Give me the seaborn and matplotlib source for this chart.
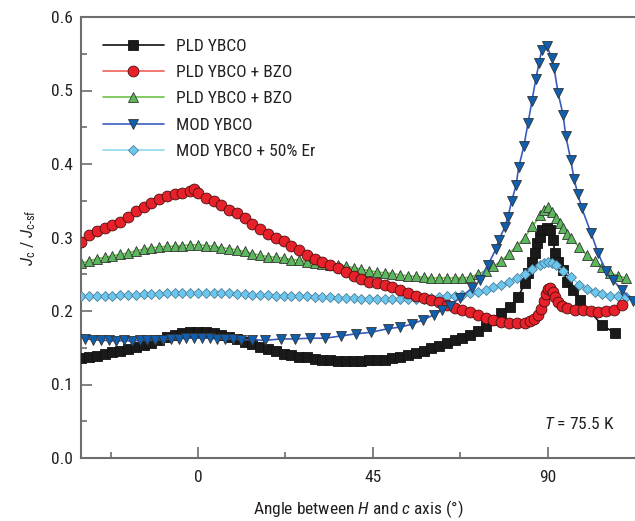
import matplotlib
matplotlib.use("Agg")
import matplotlib.pyplot as plt
from matplotlib import font_manager
import seaborn as sns

# ---------------- data ----------------
pld_x = [-30, -28, -26, -24, -22, -20, -18, -16, -14, -12, -10, -8, -6, -4, -2, 0, 2, 4, 6, 8,
         10, 12, 14, 16, 18, 20, 22, 24, 26, 28, 30, 32, 34, 36, 38, 40, 42, 44, 46, 48,
         50, 52, 54, 56, 58, 60, 62, 64, 66, 68, 70, 72, 74, 76, 78, 80.2, 82.3, 84.1, 84.9, 85.9,
         86.7, 87.2, 88.0, 88.5, 89.7, 90.5, 91.3, 91.8, 92.6, 93.9, 94.9, 96.4, 98.2, 103.9, 107.2]
pld_y = [0.136, 0.137, 0.139, 0.141, 0.144, 0.146, 0.148, 0.151, 0.154, 0.157, 0.161, 0.165, 0.168, 0.170, 0.171, 0.171, 0.171, 0.170, 0.168, 0.165,
         0.162, 0.158, 0.155, 0.151, 0.148, 0.145, 0.142, 0.140, 0.138, 0.137, 0.135, 0.134, 0.133, 0.132, 0.132, 0.132, 0.132, 0.133, 0.133, 0.134,
         0.136, 0.138, 0.140, 0.143, 0.146, 0.149, 0.152, 0.156, 0.160, 0.163, 0.168, 0.173, 0.180, 0.188, 0.197, 0.205, 0.219, 0.238, 0.252, 0.267,
         0.279, 0.293, 0.301, 0.310, 0.313, 0.310, 0.297, 0.279, 0.267, 0.256, 0.239, 0.229, 0.215, 0.181, 0.170]

bzo_x = [-30, -28, -26, -24, -22, -20, -18, -16, -14, -12, -10, -8, -6, -4, -2, -1, 0, 2, 4, 6,
         8, 10, 12, 14, 16, 18, 20, 22, 24, 26, 28, 30, 32, 34, 36, 38, 40, 42, 44, 46,
         48, 50, 52, 54, 56, 58, 60, 62, 64, 66, 68, 70, 72, 74, 76, 78, 80, 82, 84, 85.5,
         86.5, 87.5, 88.3, 88.9, 89.4, 90.0, 90.6, 91.2, 91.8, 92.5, 93.5, 95, 97, 99, 101, 103, 105, 107, 109]
bzo_y = [0.294, 0.303, 0.309, 0.313, 0.317, 0.321, 0.328, 0.336, 0.342, 0.347, 0.352, 0.356, 0.359, 0.361, 0.363, 0.366, 0.360, 0.354, 0.349, 0.344,
         0.338, 0.333, 0.327, 0.319, 0.311, 0.305, 0.300, 0.295, 0.289, 0.283, 0.276, 0.271, 0.266, 0.262, 0.258, 0.253, 0.248, 0.244, 0.240, 0.238,
         0.235, 0.232, 0.229, 0.225, 0.221, 0.218, 0.215, 0.212, 0.208, 0.204, 0.202, 0.199, 0.194, 0.191, 0.188, 0.185, 0.184, 0.183, 0.184, 0.186,
         0.189, 0.194, 0.203, 0.214, 0.223, 0.230, 0.231, 0.226, 0.219, 0.212, 0.207, 0.204, 0.202, 0.201, 0.200, 0.199, 0.200, 0.202, 0.208]

bzo2_x = [-30, -28, -26, -24, -22, -20, -18, -16, -14, -12, -10, -8, -6, -4, -2, 0, 2, 4, 6, 8,
          10, 12, 14, 16, 18, 20, 22, 24, 26, 28, 30, 32, 34, 36, 38, 40, 42, 44, 46, 48,
          50, 52, 54, 56, 58, 60, 62, 64, 66, 68, 70, 72, 74, 76, 78, 80, 82, 84, 86, 88,
          89, 90, 91, 92, 93, 94, 95, 96, 98, 100, 102, 104, 106, 108, 110]
bzo2_y = [0.265, 0.268, 0.271, 0.273, 0.275, 0.277, 0.279, 0.282, 0.284, 0.286, 0.287, 0.288, 0.288, 0.289, 0.290, 0.290, 0.289, 0.288, 0.286, 0.285,
          0.283, 0.281, 0.278, 0.276, 0.274, 0.273, 0.272, 0.270, 0.269, 0.267, 0.265, 0.264, 0.263, 0.262, 0.261, 0.259, 0.257, 0.255, 0.253, 0.252,
          0.251, 0.249, 0.248, 0.247, 0.246, 0.245, 0.245, 0.245, 0.245, 0.245, 0.246, 0.250, 0.255, 0.261, 0.268, 0.278, 0.288, 0.300, 0.315, 0.330,
          0.338, 0.342, 0.335, 0.327, 0.320, 0.313, 0.305, 0.299, 0.287, 0.276, 0.268, 0.260, 0.252, 0.248, 0.245]

mod_x = [-29, -27, -25, -23, -21, -19, -17, -15, -13, -11, -9, -7, -5, -3, -1, 1, 3, 5, 7, 9,
         11, 14, 17.2, 21.3, 24.9, 28.8, 32.7, 36.8, 40.6, 44.5, 48.9, 51.9, 55.0, 57.9, 60.7, 62.7, 64.8, 67.4, 70.5, 72.5,
         74.6, 76.6, 77.4, 78.9, 79.7, 80.7, 81.8, 82.5, 83.8, 84.9, 85.9, 86.9, 87.7, 88.4, 89.7, 91.0, 91.6, 92.6, 93.9, 94.6,
         95.9, 96.7, 97.7, 98.7, 101.1, 102.9, 104.9, 106.7, 109.0, 111.8]
mod_y = [0.162, 0.161, 0.160, 0.160, 0.159, 0.160, 0.159, 0.160, 0.160, 0.161, 0.161, 0.162, 0.162, 0.163, 0.163, 0.163, 0.163, 0.162, 0.162, 0.162,
         0.161, 0.161, 0.160, 0.162, 0.162, 0.163, 0.163, 0.166, 0.169, 0.171, 0.176, 0.178, 0.182, 0.188, 0.195, 0.201, 0.207, 0.218, 0.231, 0.242,
         0.263, 0.284, 0.297, 0.314, 0.328, 0.350, 0.371, 0.396, 0.424, 0.456, 0.486, 0.516, 0.537, 0.555, 0.561, 0.544, 0.530, 0.497, 0.467, 0.438,
         0.405, 0.380, 0.359, 0.340, 0.306, 0.279, 0.254, 0.242, 0.229, 0.213]

er_x = [-30, -28, -26, -24, -22, -20, -18, -16, -14, -12, -10, -8, -6, -4, -2, 0, 2, 4, 6, 8,
        10, 12, 14, 16, 18, 20, 22, 24, 26, 28, 30, 32, 34, 36, 38, 40, 42, 44, 46, 48,
        50, 52, 54, 56, 58, 60, 62, 64, 66, 68, 70, 72, 74, 76, 78, 80, 82, 84, 86, 88,
        89, 90, 91, 92, 94, 96, 98, 100, 102, 104, 106, 108, 110]
er_y = [0.220, 0.220, 0.221, 0.221, 0.221, 0.222, 0.222, 0.222, 0.223, 0.223, 0.223, 0.224, 0.224, 0.224, 0.225, 0.225, 0.224, 0.225, 0.224, 0.224,
        0.223, 0.223, 0.222, 0.222, 0.222, 0.221, 0.221, 0.220, 0.220, 0.220, 0.219, 0.219, 0.219, 0.218, 0.218, 0.218, 0.217, 0.217, 0.217, 0.216,
        0.216, 0.216, 0.216, 0.217, 0.217, 0.218, 0.219, 0.220, 0.221, 0.222, 0.224, 0.226, 0.229, 0.232, 0.236, 0.240, 0.245, 0.251, 0.257, 0.262,
        0.265, 0.266, 0.265, 0.262, 0.255, 0.246, 0.236, 0.230, 0.226, 0.223, 0.221, 0.220, 0.219]

labels = ["PLD YBCO", "PLD YBCO + BZO", "PLD YBCO + BZO", "MOD YBCO", "MOD YBCO + 50% Er"]
x_ticks = [0, 45, 90]
y_ticks = [0.0, 0.1, 0.2, 0.3, 0.4, 0.5, 0.6]

# ---------------- fonts ----------------
sns.set_style("ticks")
entries = font_manager.fontManager.ttflist
names = {f.name for f in entries}
preferred = ["Liberation Sans Narrow", "Arial Narrow", "Roboto Condensed", "Noto Sans Condensed",
             "Open Sans Condensed", "Fira Sans Condensed", "IBM Plex Sans Condensed", "DejaVu Sans Condensed"]
bad = ("Light", "Thin", "Black", "Bold", "Medium", "Semi", "Extra", "Mono")
fam = next((p for p in preferred if p in names), None)
if fam is None:
    cand = sorted(n for n in names if ("Narrow" in n or "Condensed" in n)
                  and "Sans" in n and not any(b in n for b in bad))
    fam = cand[0] if cand else None
if fam is None:
    fam, FS = "Liberation Sans", 11.5
else:
    FS = 12.5
has_italic = any(f.name == fam and f.style in ("italic", "oblique") for f in entries)
it_fam = fam if has_italic else "Liberation Sans"

plt.rcParams["font.family"] = [fam, "DejaVu Sans"]
plt.rcParams["mathtext.fontset"] = "custom"
plt.rcParams["mathtext.rm"] = fam
plt.rcParams["mathtext.it"] = it_fam + ":italic"
plt.rcParams["mathtext.bf"] = fam + ":bold"

TXT = "#231f20"

fig = plt.figure(figsize=(6.35, 5.21), dpi=100)
ax = fig.add_axes([81 / 635, 63 / 521, 554 / 635, 441 / 521])

common = dict(ax=ax, sort=False, estimator=None, linewidth=1.2, legend=False)
lines = {}
sns.lineplot(x=bzo2_x, y=bzo2_y, color="#6cc24a", marker="^", markersize=7.5,
             markerfacecolor="#5cb85c", markeredgecolor="#333333", markeredgewidth=0.6,
             zorder=2, **common)
lines[2] = ax.lines[-1]
sns.lineplot(x=pld_x, y=pld_y, color="#111111", marker="s", markersize=7.2,
             markerfacecolor="#1a1a1a", markeredgecolor="#111111", markeredgewidth=0.6,
             zorder=3, **common)
lines[0] = ax.lines[-1]
sns.lineplot(x=er_x, y=er_y, color="#8fd6ec", marker="D", markersize=5.5,
             markerfacecolor="#6cc6ee", markeredgecolor="#4a7f99", markeredgewidth=0.6,
             zorder=4, **common)
lines[4] = ax.lines[-1]
sns.lineplot(x=bzo_x, y=bzo_y, color="#f0605a", marker="o", markersize=7.8,
             markerfacecolor="#e8202a", markeredgecolor="#4a1010", markeredgewidth=0.6,
             zorder=5, **common)
lines[1] = ax.lines[-1]
sns.lineplot(x=mod_x, y=mod_y, color="#3a5cc0", marker="v", markersize=7.5,
             markerfacecolor="#0f5fae", markeredgecolor="#333333", markeredgewidth=0.6,
             zorder=6, **common)
lines[3] = ax.lines[-1]

ax.set_xlim(-30.1, 112.4)
ax.set_ylim(0, 0.6)
ax.set_xticks(x_ticks)
ax.set_xticks([-22.5, 22.5, 67.5], minor=True)
ax.set_yticks(y_ticks)
ax.set_yticks([0.05, 0.15, 0.25, 0.35, 0.45, 0.55], minor=True)
ax.set_xticklabels([str(v) for v in x_ticks])
ax.set_yticklabels([f"{v:.1f}" for v in y_ticks])

for s in ["left", "bottom", "top"]:
    ax.spines[s].set_color("#6d6d6d")
    ax.spines[s].set_linewidth(1.5)
ax.spines["right"].set_visible(False)
ax.tick_params(which="major", direction="in", length=8, width=1.2, color="#6d6d6d",
               labelsize=FS, labelcolor=TXT)
ax.tick_params(which="minor", direction="in", length=4.5, width=1.2, color="#6d6d6d")
ax.tick_params(axis="x", which="major", pad=9)
ax.tick_params(axis="y", which="major", pad=6)

ax.set_xlabel(r"Angle between $H$ and $c$ axis (°)", fontsize=FS, color=TXT, labelpad=9)
ax.set_ylabel(r"$J_{\mathrm{c}}$ / $J_{\mathrm{c\text{-}sf}}$", fontsize=FS, color=TXT, labelpad=9)

ax.text(0.964, 0.077, r"$T$ = 75.5 K", transform=ax.transAxes, ha="right", va="center",
        fontsize=FS, color=TXT)

leg = ax.legend([lines[i] for i in range(5)], labels,
                loc="upper left", bbox_to_anchor=(0.021, 0.975), frameon=False,
                fontsize=FS, handlelength=3.5, handletextpad=0.7, labelspacing=0.65,
                borderaxespad=0.2)
for t in leg.get_texts():
    t.set_color(TXT)

fig.savefig("out.png", dpi=100)
